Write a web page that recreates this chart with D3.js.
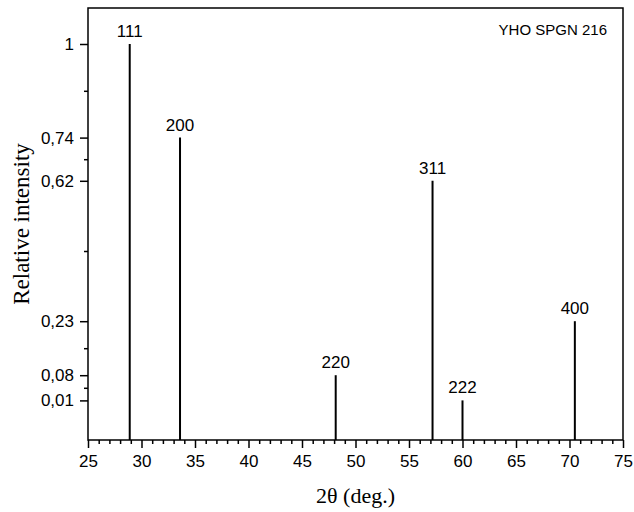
<!DOCTYPE html>
<html>
<head>
<meta charset="utf-8">
<script src="https://cdn.jsdelivr.net/npm/d3@7"></script>
<style>
  html, body { margin: 0; padding: 0; background: #fff; }
  svg { display: block; }
</style>
</head>
<body>
<svg id="chart" width="634" height="512"></svg>
<script>
// Data
const hkl = ["111", "200", "220", "311", "222", "400"];
const twoTheta = [28.9, 33.6, 48.15, 57.2, 60.0, 70.5];
const intensity = [1, 0.74, 0.08, 0.62, 0.01, 0.23];
const xTicks = [25, 30, 35, 40, 45, 50, 55, 60, 65, 70, 75];
const yTicks = [0.01, 0.08, 0.23, 0.62, 0.74, 1];
const yMinorTicks = [0.045, 0.155, 0.425, 0.68, 0.87];
const annotation = "YHO SPGN 216";

const svg = d3.select("#chart");
const L = 88, R = 623, T = 8, B = 440;
const x = d3.scaleLinear().domain([25, 75]).range([L, R]);
const y = d3.scaleLinear().domain([-0.1, 1.1]).range([B, T]);

const sans = "'Liberation Sans', Arial, sans-serif";
const serif = "'Liberation Serif', 'Times New Roman', serif";

// bars
svg.append("g").selectAll("line").data(twoTheta).join("line")
  .attr("x1", d => x(d)).attr("x2", d => x(d))
  .attr("y1", y(-0.1)).attr("y2", (d, i) => y(intensity[i]))
  .attr("stroke", "#000").attr("stroke-width", 2);

// peak labels
svg.append("g").selectAll("text").data(twoTheta).join("text")
  .attr("x", d => x(d)).attr("y", (d, i) => y(intensity[i]) - 7)
  .attr("text-anchor", "middle")
  .attr("font-family", sans).attr("font-size", 17)
  .text((d, i) => hkl[i]);

// X axis
const xMinor = d3.range(25, 76, 1).filter(v => v % 5 !== 0);
const gxm = svg.append("g").attr("transform", `translate(0,${B})`)
  .call(d3.axisBottom(x).tickValues(xMinor).tickSize(4).tickFormat(""));
const gx = svg.append("g").attr("transform", `translate(0,${B})`)
  .call(d3.axisBottom(x).tickValues(xTicks).tickSize(8).tickPadding(7).tickFormat(d3.format("d")));
[gx, gxm].forEach(g => {
  g.select(".domain").remove();
  g.selectAll(".tick line").attr("stroke", "#000").attr("stroke-width", 1.5);
});
gx.selectAll(".tick text").attr("font-family", sans).attr("font-size", 17).attr("fill", "#000");

// Y axis
const gym = svg.append("g").attr("transform", `translate(${L},0)`)
  .call(d3.axisLeft(y).tickValues(yMinorTicks).tickSize(4).tickFormat(""));
const gy = svg.append("g").attr("transform", `translate(${L},0)`)
  .call(d3.axisLeft(y).tickValues(yTicks).tickSize(8).tickPadding(6)
    .tickFormat(d => d === 1 ? "1" : String(d).replace(".", ",")));
[gy, gym].forEach(g => {
  g.select(".domain").remove();
  g.selectAll(".tick line").attr("stroke", "#000").attr("stroke-width", 1.5);
});
gy.selectAll(".tick text").attr("font-family", sans).attr("font-size", 17).attr("fill", "#000");

// frame
svg.append("rect").attr("x", L).attr("y", T).attr("width", R - L).attr("height", B - T)
  .attr("fill", "none").attr("stroke", "#000").attr("stroke-width", 1.5);

// axis titles
svg.append("text").attr("x", (L + R) / 2).attr("y", 503)
  .attr("text-anchor", "middle").attr("font-family", serif).attr("font-size", 22)
  .text("2θ (deg.)");
svg.append("text").attr("transform", `translate(29,${(T + B) / 2}) rotate(-90)`)
  .attr("text-anchor", "middle").attr("font-family", serif).attr("font-size", 23)
  .text("Relative intensity");

// annotation
svg.append("text").attr("x", 607).attr("y", 35)
  .attr("text-anchor", "end").attr("font-family", sans).attr("font-size", 15)
  .text(annotation);
</script>
</body>
</html>
